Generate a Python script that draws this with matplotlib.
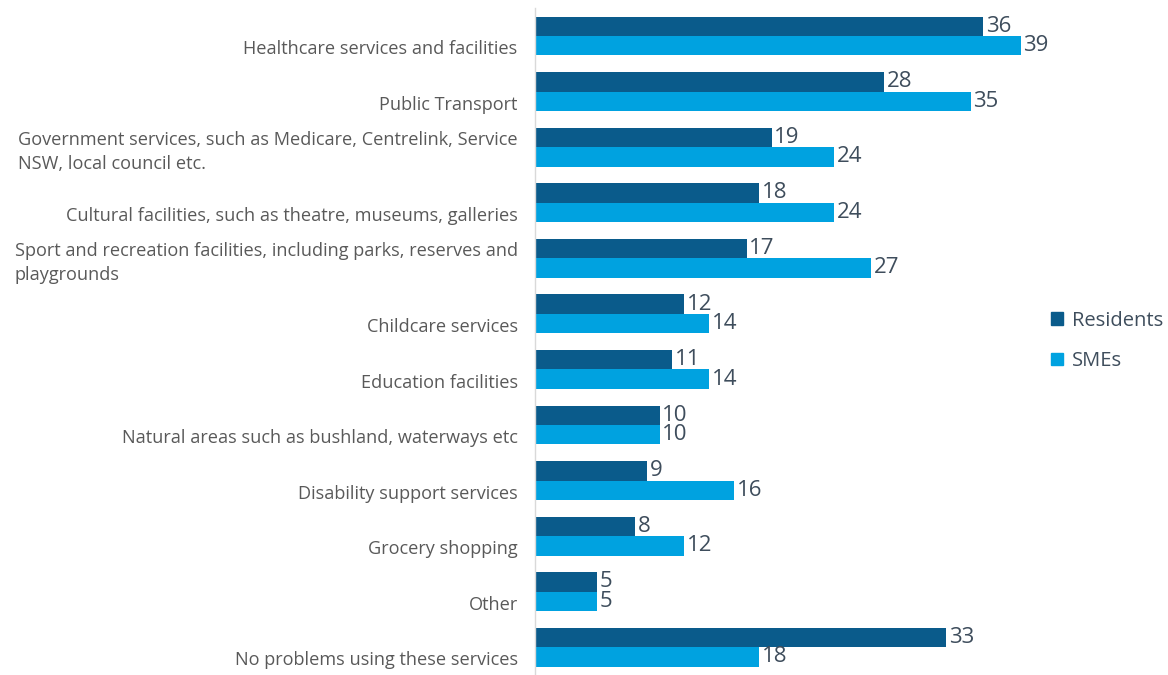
import matplotlib
matplotlib.use("Agg")
import matplotlib.pyplot as plt
from matplotlib.patches import Patch
from matplotlib.transforms import ScaledTranslation
import numpy as np

categories = [
    "Healthcare services and facilities",
    "Public Transport",
    "Government services, such as Medicare, Centrelink, Service\nNSW, local council etc.",
    "Cultural facilities, such as theatre, museums, galleries",
    "Sport and recreation facilities, including parks, reserves and\nplaygrounds",
    "Childcare services",
    "Education facilities",
    "Natural areas such as bushland, waterways etc",
    "Disability support services",
    "Grocery shopping",
    "Other",
    "No problems using these services",
]
residents = [36, 28, 19, 18, 17, 12, 11, 10, 9, 8, 5, 33]
smes = [39, 35, 24, 24, 27, 14, 14, 10, 16, 12, 5, 18]
series_names = ["Residents", "SMEs"]

dark_blue = "#0a5b8b"
light_blue = "#00a2e0"
label_color = "#595959"
value_color = "#3e4d5c"

plt.rcParams["font.family"] = ["Open Sans", "DejaVu Sans"]

fig = plt.figure(figsize=(11.68, 6.75), dpi=100)
ax = fig.add_axes([535 / 1168, 0.0, (40 * 12.45) / 1168, 0.9878])

y = np.arange(len(categories))
h = 0.35
b1 = ax.barh(y - h / 2, residents, height=h, color=dark_blue)
b2 = ax.barh(y + h / 2, smes, height=h, color=light_blue)

ax.bar_label(b1, padding=2, fontsize=16, color=value_color)
ax.bar_label(b2, padding=2, fontsize=16, color=value_color)

ax.set_xlim(0, 40)
ax.set_ylim(len(categories) - 0.5, -0.5)
ax.set_xticks([])
ax.set_yticks(y)
ax.set_yticklabels(categories, fontsize=13.1, color=label_color,
                   linespacing=1.42, multialignment="left")
ax.tick_params(axis="y", length=0, pad=12.5)

# single-line labels sit a little below the category centre
shift = ScaledTranslation(0, -8 / 72, fig.dpi_scale_trans)
for lbl in ax.get_yticklabels():
    if "\n" not in lbl.get_text():
        lbl.set_transform(lbl.get_transform() + shift)

for side in ["top", "right", "bottom"]:
    ax.spines[side].set_visible(False)
ax.spines["left"].set_color("#d9d9d9")
ax.spines["left"].set_linewidth(1)

handles = [Patch(color=dark_blue), Patch(color=light_blue)]
fig.legend(handles, series_names, loc="center left",
           bbox_to_anchor=(1033 / 1168, 1 - 341 / 675),
           frameon=False, fontsize=14.5, handlelength=0.6, handleheight=0.6,
           handletextpad=0.45, labelspacing=1.0, labelcolor=value_color)

fig.savefig("out.png", dpi=100)
